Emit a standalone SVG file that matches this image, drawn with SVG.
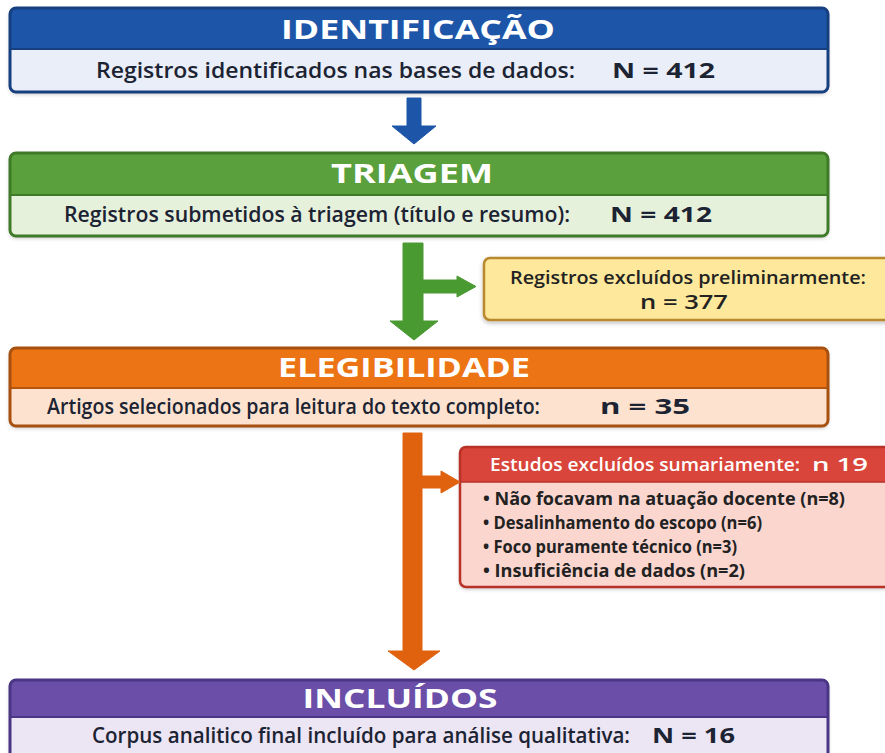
<svg xmlns="http://www.w3.org/2000/svg" width="885" height="753" viewBox="0 0 885 753">
<defs>
<style>
.hdr{font-family:"Open Sans","Liberation Sans",sans-serif;font-weight:700;fill:#ffffff;text-anchor:middle}
.body{font-family:"Open Sans","Liberation Sans",sans-serif;font-weight:600;fill:#1c2333}
.num{font-family:"Open Sans","Liberation Sans",sans-serif;font-weight:700;fill:#1c2333}
.yt{font-family:"Open Sans","Liberation Sans",sans-serif;font-weight:600;fill:#222222;text-anchor:middle}
.rh{font-family:"Open Sans","Liberation Sans",sans-serif;font-weight:600;fill:#ffffff}
.bl{font-family:"Open Sans","Liberation Sans",sans-serif;font-weight:700;fill:#222222}
</style>
<filter id="sh" x="-5%" y="-10%" width="110%" height="130%">
<feDropShadow dx="0" dy="2" stdDeviation="2" flood-color="#000" flood-opacity="0.25"/>
</filter>
</defs>
<rect width="885" height="753" fill="#ffffff"/>

<g id="identificacao">
<rect x="10" y="8" width="818" height="84" rx="6" fill="#e9eef8" filter="url(#sh)"/>
<path d="M10,49 V14 Q10,8 16,8 H822 Q828,8 828,14 V49 Z" fill="#1d56a8"/>
<line x1="10" y1="49" x2="828" y2="49" stroke="#163f80" stroke-width="2"/>
<rect x="10" y="8" width="818" height="84" rx="6" fill="none" stroke="#163f80" stroke-width="3"/>
<text class="hdr" x="418" y="39" font-size="26" textLength="274" lengthAdjust="spacingAndGlyphs">IDENTIFICAÇÃO</text>
<text class="body" x="96" y="78" font-size="21" textLength="479" lengthAdjust="spacingAndGlyphs">Registros identificados nas bases de dados:</text>
<text class="num" x="612" y="78" font-size="21" textLength="103" lengthAdjust="spacingAndGlyphs">N = 412</text>
</g>

<g id="triagem">
<rect x="10" y="153" width="818" height="83" rx="6" fill="#e6f1dc" filter="url(#sh)"/>
<path d="M10,195 V159 Q10,153 16,153 H822 Q828,153 828,159 V195 Z" fill="#5aa03c"/>
<line x1="10" y1="195" x2="828" y2="195" stroke="#3e7a28" stroke-width="2"/>
<rect x="10" y="153" width="818" height="83" rx="6" fill="none" stroke="#3e7a28" stroke-width="3"/>
<text class="hdr" x="412" y="183" font-size="26" textLength="162" lengthAdjust="spacingAndGlyphs">TRIAGEM</text>
<text class="body" x="64" y="222" font-size="21" textLength="506" lengthAdjust="spacingAndGlyphs">Registros submetidos à triagem (título e resumo):</text>
<text class="num" x="610" y="222" font-size="21" textLength="102" lengthAdjust="spacingAndGlyphs">N = 412</text>
</g>

<g id="excluidos-preliminar">
<rect x="484" y="258" width="412" height="62" rx="6" fill="#fde89c" stroke="#b8892e" stroke-width="2.5" filter="url(#sh)"/>
<text class="yt" x="688" y="284" font-size="18" textLength="356" lengthAdjust="spacingAndGlyphs">Registros excluídos preliminarmente:</text>
<text class="yt" x="684" y="309" font-size="20" font-weight="700" textLength="88" lengthAdjust="spacingAndGlyphs">n = 377</text>
</g>

<g id="elegibilidade">
<rect x="10" y="348" width="818" height="78" rx="6" fill="#fde3cf" filter="url(#sh)"/>
<path d="M10,388 V354 Q10,348 16,348 H822 Q828,348 828,354 V388 Z" fill="#ec7414"/>
<line x1="10" y1="388" x2="828" y2="388" stroke="#b5560f" stroke-width="2"/>
<rect x="10" y="348" width="818" height="78" rx="6" fill="none" stroke="#a8500f" stroke-width="3"/>
<text class="hdr" x="404" y="377" font-size="26" textLength="252" lengthAdjust="spacingAndGlyphs">ELEGIBILIDADE</text>
<text class="body" x="47" y="414" font-size="21" textLength="493" lengthAdjust="spacingAndGlyphs">Artigos selecionados para leitura do texto completo:</text>
<text class="num" x="600" y="414" font-size="22" textLength="90" lengthAdjust="spacingAndGlyphs">n = 35</text>
</g>

<g id="excluidos-sumariamente">
<rect x="460" y="447" width="430" height="140" rx="6" fill="#fbd6cf" filter="url(#sh)"/>
<path d="M460,482 V453 Q460,447 466,447 H884 Q890,447 890,453 V482 Z" fill="#d9453a"/>
<line x1="460" y1="482" x2="890" y2="482" stroke="#b83228" stroke-width="1.5"/>
<rect x="460" y="447" width="430" height="140" rx="6" fill="none" stroke="#b83228" stroke-width="2.5"/>
<text class="rh" x="490" y="471" font-size="18" textLength="310" lengthAdjust="spacingAndGlyphs">Estudos excluídos sumariamente:</text>
<text class="rh" x="812" y="471" font-size="18" font-weight="700" textLength="56" lengthAdjust="spacingAndGlyphs">n 19</text>
<text class="bl" x="483" y="505" font-size="17" textLength="362" lengthAdjust="spacingAndGlyphs">• Não focavam na atuação docente (n=8)</text>
<text class="bl" x="483" y="529" font-size="17" textLength="279" lengthAdjust="spacingAndGlyphs">• Desalinhamento do escopo (n=6)</text>
<text class="bl" x="483" y="553" font-size="17" textLength="254" lengthAdjust="spacingAndGlyphs">• Foco puramente técnico (n=3)</text>
<text class="bl" x="483" y="577" font-size="17" textLength="262" lengthAdjust="spacingAndGlyphs">• Insuficiência de dados (n=2)</text>
</g>

<g id="incluidos">
<rect x="10" y="680" width="818" height="82" rx="6" fill="#ebe5f4" filter="url(#sh)"/>
<path d="M10,717 V686 Q10,680 16,680 H822 Q828,680 828,686 V717 Z" fill="#6a4ea8"/>
<line x1="10" y1="717" x2="828" y2="717" stroke="#4b3585" stroke-width="2"/>
<rect x="10" y="680" width="818" height="82" rx="6" fill="none" stroke="#4b3585" stroke-width="3"/>
<text class="hdr" x="400" y="708" font-size="26" textLength="195" lengthAdjust="spacingAndGlyphs">INCLUÍDOS</text>
<text class="body" x="92" y="743" font-size="21" textLength="538" lengthAdjust="spacingAndGlyphs">Corpus analitico final incluído para análise qualitativa:</text>
<text class="num" x="652" y="743" font-size="22" textLength="83" lengthAdjust="spacingAndGlyphs">N = 16</text>
</g>

<g id="connectors">
<path d="M407,98 H421 V126 H436 L414,144 L392,126 H407 Z" fill="#1d56a8" stroke="#1d56a8" stroke-width="1" stroke-linejoin="round"/>
<path d="M403,243 H423 V280 H457 V276 L476,286.5 L457,297 V293 H423 V321 H438 L414,340 L390,321 H403 Z" fill="#4a9a32" stroke="#4a9a32" stroke-width="1" stroke-linejoin="round"/>
<path d="M403,433 H422 V476 H441 V471 L460,482 L441,493 V488 H422 V651 H440 L414,670 L388,651 H403 Z" fill="#e0620f" stroke="#e0620f" stroke-width="1" stroke-linejoin="round"/>
</g>
</svg>
